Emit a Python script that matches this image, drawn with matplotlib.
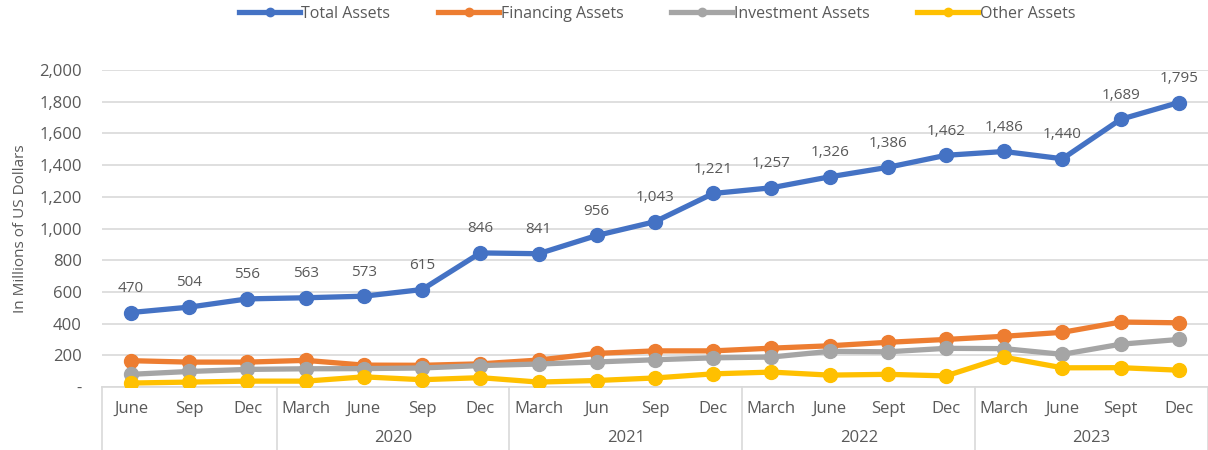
import matplotlib
matplotlib.use("Agg")
import matplotlib.pyplot as plt
from matplotlib.lines import Line2D

plt.rcParams['font.family'] = ['Open Sans', 'DejaVu Sans']

# Quarter labels and year groups
months = ["June", "Sep", "Dec",
          "March", "June", "Sep", "Dec",
          "March", "Jun", "Sep", "Dec",
          "March", "June", "Sept", "Dec",
          "March", "June", "Sept", "Dec"]
years = ["", "2020", "2021", "2022", "2023"]
year_sizes = [3, 4, 4, 4, 4]

# Series values (millions of US dollars)
total_assets = [470, 504, 556, 563, 573, 615, 846, 841, 956, 1043, 1221,
                1257, 1326, 1386, 1462, 1486, 1440, 1689, 1795]
financing_assets = [166, 157, 157, 168, 138, 137, 146, 170, 212, 228, 228,
                    245, 260, 282, 300, 320, 345, 410, 405]
investment_assets = [80, 98, 111, 115, 116, 120, 135, 145, 158, 172, 184,
                     189, 225, 222, 244, 242, 206, 270, 300]
other_assets = [25, 31, 37, 37, 64, 46, 59, 31, 41, 57, 83,
                94, 75, 80, 70, 188, 121, 122, 106]

series = [
    ("Total Assets", total_assets, "#4472C4"),
    ("Financing Assets", financing_assets, "#ED7D31"),
    ("Investment Assets", investment_assets, "#A5A5A5"),
    ("Other Assets", other_assets, "#FFC000"),
]

text_color = "#595959"
grid_color = "#D9D9D9"
fs = 12

fig = plt.figure(figsize=(12.08, 4.5), dpi=100)
ax = fig.add_axes([0.0844, 0.14, 0.9156, 0.7044])

x = list(range(len(months)))
handles = []
for name, vals, color in series:
    ax.plot(x, vals, color=color, linewidth=3.8, marker="o", markersize=10,
            solid_capstyle="round", zorder=3)
    handles.append(Line2D([0], [0], color=color, linewidth=3.8, marker="o",
                          markersize=6, label=name))

# data labels on total
for xi, v in zip(x, total_assets):
    ax.annotate(f"{v:,}", (xi, v), xytext=(0, 12), textcoords="offset points",
                ha="center", va="bottom", fontsize=11, color=text_color)

ax.set_xlim(-0.5, len(months) - 0.5)
ax.set_ylim(0, 2000)
ax.set_yticks(range(0, 2001, 200))
ax.set_yticklabels(["-"] + [f"{v:,}" for v in range(200, 2001, 200)])
ax.grid(axis="y", color=grid_color, linewidth=1.2)
ax.set_axisbelow(True)
for s in ["top", "right", "left"]:
    ax.spines[s].set_visible(False)
ax.spines["bottom"].set_color(grid_color)
ax.spines["bottom"].set_linewidth(1.2)
ax.tick_params(axis="y", length=0, pad=14.5, labelsize=fs, colors=text_color)
ax.set_xticks(x)
ax.set_xticklabels(months)
ax.tick_params(axis="x", length=0, pad=10, labelsize=fs, colors=text_color)
ax.set_ylabel("In Millions of US Dollars", fontsize=11, color=text_color, labelpad=8)

# group separators and year labels
trans = ax.get_xaxis_transform()
start = 0
bounds = [-0.5]
for yr, n in zip(years, year_sizes):
    end = start + n
    ax.text((start + end - 1) / 2, -0.16, yr, transform=trans, ha="center",
            va="center", fontsize=fs, color=text_color)
    bounds.append(end - 0.5)
    start = end
for b in bounds:
    ax.plot([b, b], [0, -0.2], transform=trans, color=grid_color, linewidth=1.2,
            clip_on=False)

fig.legend(handles=handles, loc="center", bbox_to_anchor=(0.544, 0.97), ncol=4,
           frameon=False, fontsize=11.5, handlelength=3.8, handletextpad=0.1,
           columnspacing=3.0, labelcolor=text_color)

fig.savefig("out.png", dpi=100)
